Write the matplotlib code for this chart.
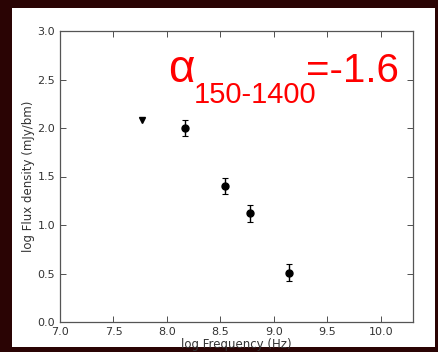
import matplotlib
matplotlib.use("Agg")
import matplotlib.pyplot as plt
from matplotlib.patches import Rectangle

# Data
det_logfreq = [8.17, 8.54, 8.78, 9.14]
det_logflux = [2.00, 1.40, 1.12, 0.51]
det_err = [0.085, 0.085, 0.085, 0.085]
lim_logfreq = [7.77]
lim_logflux = [2.08]
xticks = [7.0, 7.5, 8.0, 8.5, 9.0, 9.5, 10.0]
yticks = [0.0, 0.5, 1.0, 1.5, 2.0, 2.5, 3.0]

W, H = 439, 352
fig = plt.figure(figsize=(W / 100, H / 100), dpi=100)
fig.patch.set_facecolor('#2a0404')
bg = Rectangle((12 / W, 1 - 347 / H), (435 - 12) / W, (347 - 8) / H,
               transform=fig.transFigure, facecolor='white',
               edgecolor='none', zorder=-10)
fig.patches.append(bg)

ax = fig.add_axes([60 / W, 1 - 322 / H, (413 - 60) / W, (322 - 31) / H], zorder=1)
ax.set_facecolor('white')
ax.errorbar(det_logfreq, det_logflux, yerr=det_err, fmt='o', color='black',
            ms=5, capsize=2.5, elinewidth=1, capthick=0.8, ecolor='black')
ax.plot(lim_logfreq, lim_logflux, 'v', color='black', ms=5)

ax.set_xlim(7.0, 10.3)
ax.set_ylim(0.0, 3.0)
ax.set_xticks(xticks)
ax.set_yticks(yticks)
ax.set_xticklabels([f"{v:.1f}" for v in xticks])
ax.set_yticklabels([f"{v:.1f}" for v in yticks])
ax.tick_params(direction='in', top=True, right=True, length=4, width=0.6,
               labelsize=8, colors='#333333', labelcolor='#333333')
for s in ax.spines.values():
    s.set_color('#555555')
    s.set_linewidth(0.9)
ax.set_xlabel('log Frequency (Hz)', fontsize=8.5, color='#333333', labelpad=1)
ax.set_ylabel('log Flux density (mJy/bm)', fontsize=8.5, color='#333333', labelpad=2)

# Spectral index annotation
fam = ['Liberation Sans', 'DejaVu Sans']
fig.text(168 / W, 1 - 82 / H, 'α', fontsize=33, color='red', family=fam, va='baseline', zorder=5)
fig.text(194 / W, 1 - 103 / H, '150-1400', fontsize=21, color='red', family=fam, va='baseline', zorder=5)
fig.text(306 / W, 1 - 82 / H, '=-1.6', fontsize=29, color='red', family=fam, va='baseline', zorder=5)

fig.savefig('out.png', dpi=100, facecolor=fig.get_facecolor())
